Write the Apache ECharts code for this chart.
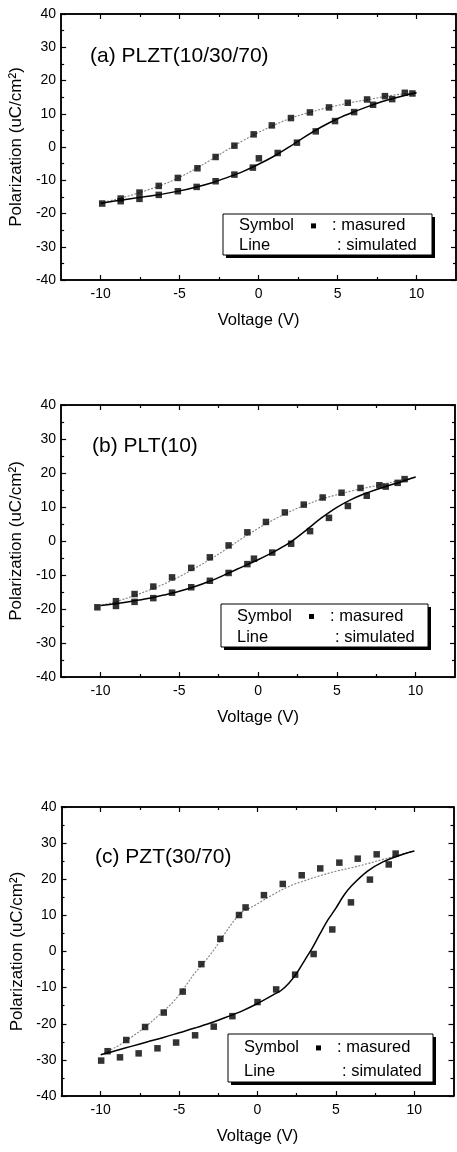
<!DOCTYPE html>
<html>
<head>
<meta charset="utf-8">
<script src="https://cdn.jsdelivr.net/npm/echarts@6/dist/echarts.min.js"></script>
<style>
html,body{margin:0;padding:0;background:#fff;}
#c{width:457px;height:1152px;}
</style>
</head>
<body>
<div id="c"></div>
<script>
// ---------- data ----------
const xTicks = [-10, -5, 0, 5, 10];
const xMinor = [-7.5, -2.5, 2.5, 7.5];
const yTicks = [-40, -30, -20, -10, 0, 10, 20, 30, 40];
const yMinor = [-35, -25, -15, -5, 5, 15, 25, 35];
const titles = ['(a) PLZT(10/30/70)', '(b) PLT(10)', '(c) PZT(30/70)'];

// panel (a)
const measA_up = [[9.74,16.1],[9.26,16.3],[8.0,15.3],[6.87,14.3],[5.65,13.3],[4.46,11.9],[3.25,10.4],[2.05,8.7],[0.84,6.5],[-0.31,3.8],[-1.53,0.4],[-2.72,-3.0],[-3.87,-6.4],[-5.11,-9.3],[-6.32,-11.7],[-7.54,-13.7],[-8.73,-15.5],[-9.9,-17.0]];
const measA_dn = [[-8.73,-16.3],[-7.54,-15.6],[-6.32,-14.4],[-5.11,-13.3],[-3.92,-12.0],[-2.72,-10.3],[-1.53,-8.3],[-0.36,-6.2],[0.02,-3.4],[1.21,-1.8],[2.43,1.3],[3.62,4.7],[4.84,7.8],[6.05,10.5],[7.25,12.7],[8.46,14.4]];
const simA_up = [[10,16.3],[9,15.9],[8,15.2],[7,14.3],[6,13.5],[5,12.5],[4,11.4],[3,10.1],[2,8.6],[1,6.6],[0,4.4],[-1,1.9],[-2,-0.9],[-3,-3.8],[-4,-6.6],[-5,-9.1],[-6,-11.2],[-7,-12.9],[-8,-14.4],[-9,-15.7],[-10,-16.8]];
const simA_dn = [[-10,-16.9],[-9,-16.2],[-8,-15.5],[-7,-14.8],[-6,-14.1],[-5,-13.2],[-4,-12.1],[-3,-10.8],[-2,-9.2],[-1,-7.4],[0,-5.2],[1,-2.7],[2,0.2],[3,3.3],[4,6.1],[5,8.5],[6,10.5],[7,12.3],[8,13.9],[9,15.2],[10,16.3]];

// panel (b)
const measB_up = [[9.3,18.2],[8.86,17.1],[7.7,16.4],[6.5,15.6],[5.3,14.2],[4.1,12.8],[2.9,10.7],[1.7,8.4],[0.5,5.6],[-0.68,2.55],[-1.87,-1.3],[-3.06,-4.8],[-4.24,-7.9],[-5.46,-10.7],[-6.65,-13.4],[-7.84,-15.6],[-9.02,-17.7],[-10.2,-19.5]];
const measB_dn = [[-9.02,-19.1],[-7.84,-17.9],[-6.65,-16.8],[-5.46,-15.2],[-4.24,-13.6],[-3.06,-11.7],[-1.87,-9.4],[-0.68,-6.8],[-0.26,-5.2],[0.9,-3.4],[2.1,-0.8],[3.3,2.9],[4.5,6.8],[5.7,10.3],[6.9,13.3],[8.1,16.0]];
const simB_up = [[10,18.8],[9,17.8],[8,16.8],[7,15.8],[6,14.8],[5,13.6],[4,12.3],[3,10.6],[2,8.6],[1,6.3],[0,3.7],[-1,0.8],[-2,-2.3],[-3,-5.3],[-4,-8.0],[-5,-10.5],[-6,-12.7],[-7,-14.6],[-8,-16.3],[-9,-17.8],[-10,-19.0]];
const simB_dn = [[-10,-19.0],[-9,-18.4],[-8,-17.7],[-7,-16.9],[-6,-15.9],[-5,-14.8],[-4,-13.4],[-3,-11.7],[-2,-9.7],[-1,-7.6],[0,-5.5],[1,-3.2],[2,-0.5],[3,3.0],[4,6.7],[5,9.9],[6,12.4],[7,14.3],[8,15.9],[9,17.3],[10,18.8]];

// panel (c)
const measC_up = [[8.81,27.1],[7.6,26.9],[6.39,25.7],[5.22,24.6],[4.0,23.0],[2.82,21.1],[1.61,18.7],[0.41,15.6],[-0.76,12.2],[-1.18,10.1],[-2.37,3.5],[-3.58,-3.5],[-4.77,-11.1],[-5.98,-16.9],[-7.17,-20.9],[-8.37,-24.5],[-9.56,-27.6],[-9.97,-30.2]];
const measC_dn = [[-8.77,-29.3],[-7.58,-28.2],[-6.38,-26.8],[-5.19,-25.2],[-3.98,-23.2],[-2.79,-20.8],[-1.6,-17.9],[0.0,-14.0],[1.19,-10.5],[2.4,-6.4],[3.58,-0.7],[4.77,6.1],[5.96,13.6],[7.17,19.9],[8.37,24.1]];
const simC_up = [[10,27.8],[9,26.7],[8,25.5],[7,24.3],[6,23.2],[5,22.2],[4,21.0],[3,19.6],[2,18.0],[1,15.8],[0,13.2],[-0.5,12.0],[-1,10.9],[-1.5,8.5],[-2,5.5],[-2.5,2.2],[-3,-0.8],[-3.5,-3.5],[-4,-6.0],[-4.5,-9.0],[-5,-12.0],[-5.5,-14.5],[-6,-16.5],[-7,-20.3],[-8,-23.6],[-9,-26.4],[-10,-28.6]];
const simC_dn = [[-10,-28.6],[-9,-27.4],[-8,-26.2],[-7,-25.0],[-6,-23.8],[-5,-22.5],[-4,-21.2],[-3,-19.8],[-2,-18.2],[-1,-16.5],[0,-14.4],[1,-12.0],[1.5,-10.8],[2,-8.8],[2.5,-6.0],[3,-2.5],[3.5,1.0],[4,5.0],[4.5,8.8],[5,12.0],[5.5,15.5],[6,18.2],[7,22.2],[8,24.8],[9,26.5],[10,27.8]];

const panels = [
  {meas:[measA_up, measA_dn], sim:[simA_up, simA_dn]},
  {meas:[measB_up, measB_dn], sim:[simB_up, simB_dn]},
  {meas:[measC_up, measC_dn], sim:[simC_up, simC_dn]}
];

// ---------- layout ----------
const FONT = 'Liberation Sans, Arial, Helvetica, sans-serif';
const grids = [
  {left:61, top:14, width:395, height:266},
  {left:61, top:405, width:394, height:272},
  {left:61.5, top:807, width:392, height:289}
];
const titlePos = [[90,58],[92,448],[95,859]];
const legendBoxes = [
  {x:223, y:214, w:209, h:41},
  {x:221, y:604, w:207, h:43},
  {x:228, y:1034, w:205, h:48}
];

const xAxes = [], yAxes = [], series = [], graphic = [];

function mkX(gi, pos, major, labels, nameOn) {
  return {
    type:'value', gridIndex:gi, position:pos, min:-12.5, max:12.5,
    axisLine:{show:true, onZero:false, lineStyle:{color:'#000', width:1.5}},
    axisTick:{show:true, inside:true, length: major?5:3, customValues: major?xTicks:xMinor, lineStyle:{color:'#000', width:1.2}},
    axisLabel:{show:labels, customValues:xTicks, color:'#000', fontSize:14, fontFamily:FONT, margin:7},
    splitLine:{show:false},
    name: nameOn ? 'Voltage (V)' : '', nameLocation:'middle', nameGap:32,
    nameTextStyle:{color:'#000', fontSize:16.5, fontFamily:FONT}
  };
}
function mkY(gi, pos, major, labels, nameOn) {
  return {
    type:'value', gridIndex:gi, position:pos, min:-40, max:40,
    axisLine:{show:true, onZero:false, lineStyle:{color:'#000', width:1.5}},
    axisTick:{show:true, inside:true, length: major?5:3, customValues: major?yTicks:yMinor, lineStyle:{color:'#000', width:1.2}},
    axisLabel:{show:labels, customValues:yTicks, color:'#000', fontSize:14, fontFamily:FONT, margin:5},
    splitLine:{show:false},
    name: nameOn ? 'Polarization (uC/cm²)' : '', nameLocation:'middle', nameGap:34,
    nameTextStyle:{color:'#000', fontSize:17, fontFamily:FONT}
  };
}

grids.forEach((g, gi) => {
  const xi = xAxes.length, yi = yAxes.length;
  xAxes.push(mkX(gi,'bottom',true,true,true));
  xAxes.push(mkX(gi,'bottom',false,false,false));
  xAxes.push(mkX(gi,'top',true,false,false));
  xAxes.push(mkX(gi,'top',false,false,false));
  yAxes.push(mkY(gi,'left',true,true,true));
  yAxes.push(mkY(gi,'left',false,false,false));
  yAxes.push(mkY(gi,'right',true,false,false));
  yAxes.push(mkY(gi,'right',false,false,false));

  const p = panels[gi];
  series.push({
    type:'line', xAxisIndex:xi, yAxisIndex:yi, data:p.sim[0], smooth:0.35,
    symbol:'none', lineStyle:{color:'#808080', width:1.1, type:[2,1.5]}, z:2, silent:true
  });
  series.push({
    type:'line', xAxisIndex:xi, yAxisIndex:yi, data:p.sim[1], smooth:0.35,
    symbol:'none', lineStyle:{color:'#000', width:1.5}, z:2, silent:true
  });
  p.meas.forEach(m => series.push({
    type:'scatter', xAxisIndex:xi, yAxisIndex:yi, data:m,
    symbol:'rect', symbolSize:6.5, itemStyle:{color:'#000'}, z:3, silent:true
  }));

  // panel title
  graphic.push({type:'text', left:titlePos[gi][0], top:titlePos[gi][1]-12,
    style:{text:titles[gi], fill:'#000', font:'21px ' + FONT}});

  // legend box
  const b = legendBoxes[gi];
  graphic.push({type:'rect', shape:{x:b.x+3, y:b.y+3, width:b.w, height:b.h},
    style:{fill:'#000'}, z:10});
  graphic.push({type:'rect', shape:{x:b.x, y:b.y, width:b.w, height:b.h},
    style:{fill:'#fff', stroke:'#000', lineWidth:1}, z:11});
  const r1 = b.y + b.h*0.29, r2 = b.y + b.h*0.77;
  graphic.push({type:'text', x:b.x+16, y:r1, z:12,
    style:{text:'Symbol', fill:'#000', font:'16.5px ' + FONT, verticalAlign:'middle'}});
  graphic.push({type:'rect', shape:{x:b.x+88, y:r1-2.5, width:5, height:5}, style:{fill:'#000'}, z:12});
  graphic.push({type:'text', x:b.x+109, y:r1, z:12,
    style:{text:': masured', fill:'#000', font:'16.5px ' + FONT, verticalAlign:'middle'}});
  graphic.push({type:'text', x:b.x+16, y:r2, z:12,
    style:{text:'Line', fill:'#000', font:'16.5px ' + FONT, verticalAlign:'middle'}});
  graphic.push({type:'text', x:b.x+114, y:r2, z:12,
    style:{text:': simulated', fill:'#000', font:'16.5px ' + FONT, verticalAlign:'middle'}});
});

const chart = echarts.init(document.getElementById('c'), null, {renderer:'canvas'});
chart.setOption({
  backgroundColor:'#fff',
  animation:false,
  grid: grids.map(g => Object.assign({containLabel:false}, g)),
  xAxis: xAxes,
  yAxis: yAxes,
  series: series,
  graphic: graphic
});
</script>
</body>
</html>
